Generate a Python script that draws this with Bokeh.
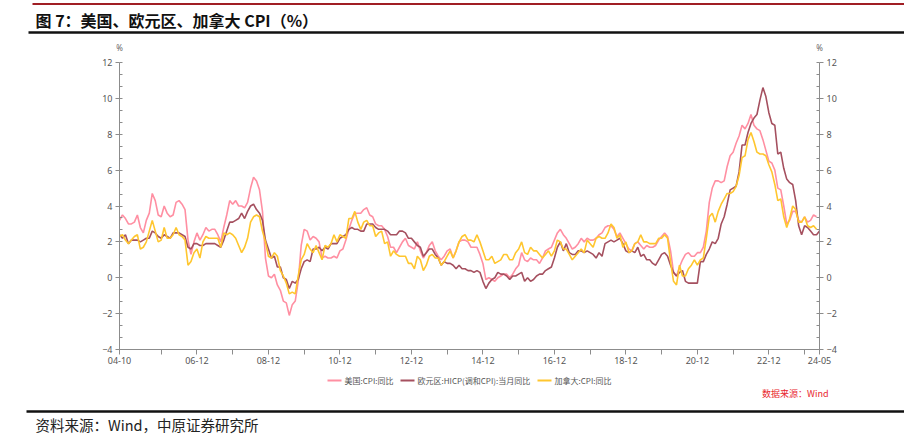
import pandas as pd
from bokeh.plotting import figure
from bokeh.models import (Range1d, LinearAxis, FixedTicker, SingleIntervalTicker, ColumnDataSource)
from bokeh.core.properties import value
from bokeh.layouts import column
from bokeh.embed import file_html
from bokeh.resources import INLINE

# ---------------- data ----------------
months = [p.strftime("%y-%m") for p in pd.period_range("2004-10", "2024-05", freq="M")]

us_cpi = [
    3.2, 3.5, 3.3,                                                   # 2004 Oct-Dec
    3.0, 3.0, 3.1, 3.5, 2.8, 2.5, 3.2, 3.6, 4.7, 4.3, 3.5, 3.4,      # 2005
    4.0, 3.6, 3.4, 3.5, 4.2, 4.3, 4.1, 3.8, 2.1, 1.3, 2.0, 2.5,      # 2006
    2.1, 2.4, 2.8, 2.6, 2.7, 2.7, 2.4, 2.0, 2.8, 3.5, 4.3, 4.1,      # 2007
    4.3, 4.0, 4.0, 3.9, 4.2, 5.0, 5.6, 5.4, 4.9, 3.7, 1.1, 0.1,      # 2008
    0.0, 0.2, -0.4, -0.7, -1.3, -1.4, -2.1, -1.5, -1.3, -0.2, 1.8, 2.7,  # 2009
    2.6, 2.1, 2.3, 2.2, 2.0, 1.1, 1.2, 1.1, 1.1, 1.2, 1.1, 1.5,      # 2010
    1.6, 2.1, 2.7, 3.2, 3.6, 3.6, 3.6, 3.8, 3.9, 3.5, 3.4, 3.0,      # 2011
    2.9, 2.9, 2.7, 2.3, 1.7, 1.7, 1.4, 1.7, 2.0, 2.2, 1.8, 1.7,      # 2012
    1.6, 2.0, 1.5, 1.1, 1.4, 1.8, 2.0, 1.5, 1.2, 1.0, 1.2, 1.5,      # 2013
    1.6, 1.1, 1.5, 2.0, 2.1, 2.1, 2.0, 1.7, 1.7, 1.7, 1.3, 0.8,      # 2014
    -0.1, 0.0, -0.1, -0.2, 0.0, 0.1, 0.2, 0.2, 0.0, 0.2, 0.5, 0.7,   # 2015
    1.4, 1.0, 0.9, 1.1, 1.0, 1.0, 0.8, 1.1, 1.5, 1.6, 1.7, 2.1,      # 2016
    2.5, 2.7, 2.4, 2.2, 1.9, 1.6, 1.7, 1.9, 2.2, 2.0, 2.2, 2.1,      # 2017
    2.1, 2.2, 2.4, 2.5, 2.8, 2.9, 2.9, 2.7, 2.3, 2.5, 2.2, 1.9,      # 2018
    1.6, 1.5, 1.9, 2.0, 1.8, 1.6, 1.8, 1.7, 1.7, 1.8, 2.1, 2.3,      # 2019
    2.5, 2.3, 1.5, 0.3, 0.1, 0.6, 1.0, 1.3, 1.4, 1.2, 1.2, 1.4,      # 2020
    1.4, 1.7, 2.6, 4.2, 5.0, 5.4, 5.4, 5.3, 5.4, 6.2, 6.8, 7.0,      # 2021
    7.5, 7.9, 8.5, 8.3, 8.6, 9.1, 8.5, 8.3, 8.2, 7.7, 7.1, 6.5,      # 2022
    6.4, 6.0, 5.0, 4.9, 4.0, 3.0, 3.2, 3.7, 3.7, 3.2, 3.1, 3.4,      # 2023
    3.1, 3.2, 3.5, 3.4,                                              # 2024 Jan-Apr
]

ea_hicp = [
    2.4, 2.2, 2.4,
    1.9, 2.1, 2.1, 2.1, 2.0, 2.1, 2.2, 2.2, 2.6, 2.5, 2.3, 2.2,
    2.4, 2.3, 2.2, 2.5, 2.5, 2.5, 2.4, 2.3, 1.7, 1.6, 1.9, 1.9,
    1.8, 1.8, 1.9, 1.9, 1.9, 1.9, 1.8, 1.7, 2.1, 2.6, 3.1, 3.1,
    3.2, 3.3, 3.6, 3.3, 3.7, 4.0, 4.1, 3.8, 3.6, 3.2, 2.1, 1.6,
    1.1, 1.2, 0.6, 0.6, 0.0, -0.1, -0.6, -0.2, -0.3, -0.1, 0.5, 0.9,
    1.0, 0.9, 1.6, 1.6, 1.7, 1.5, 1.7, 1.6, 1.9, 1.9, 1.9, 2.2,
    2.3, 2.4, 2.7, 2.8, 2.7, 2.7, 2.6, 2.6, 3.0, 3.0, 3.0, 2.8,
    2.7, 2.7, 2.7, 2.6, 2.4, 2.4, 2.4, 2.6, 2.6, 2.5, 2.2, 2.2,
    2.0, 1.8, 1.7, 1.2, 1.4, 1.6, 1.6, 1.3, 1.1, 0.7, 0.9, 0.8,
    0.8, 0.7, 0.5, 0.7, 0.5, 0.5, 0.4, 0.4, 0.3, 0.4, 0.3, -0.2,
    -0.6, -0.3, -0.1, 0.0, 0.3, 0.2, 0.2, 0.1, -0.1, 0.1, 0.1, 0.2,
    0.3, -0.2, 0.0, -0.2, -0.1, 0.1, 0.2, 0.2, 0.4, 0.5, 0.6, 1.1,
    1.7, 2.0, 1.5, 1.9, 1.4, 1.3, 1.3, 1.5, 1.5, 1.4, 1.5, 1.4,
    1.3, 1.1, 1.4, 1.2, 1.9, 2.0, 2.1, 2.0, 2.1, 2.2, 1.9, 1.5,
    1.4, 1.5, 1.4, 1.7, 1.2, 1.3, 1.0, 1.0, 0.8, 0.7, 1.0, 1.3,
    1.4, 1.2, 0.7, 0.3, 0.1, 0.3, 0.4, -0.2, -0.3, -0.3, -0.3, -0.3,
    0.9, 0.9, 1.3, 1.6, 2.0, 1.9, 2.2, 3.0, 3.4, 4.1, 4.9, 5.0,
    5.1, 5.9, 7.4, 7.4, 8.1, 8.6, 8.9, 9.1, 9.9, 10.6, 10.1, 9.2,
    8.6, 8.5, 6.9, 7.0, 6.1, 5.5, 5.3, 5.2, 4.3, 2.9, 2.4, 2.9,
    2.8, 2.6, 2.4, 2.4, 2.6,
]

ca_cpi = [
    2.3, 2.4, 2.1,
    1.9, 2.1, 2.3, 2.4, 1.6, 1.7, 2.0, 2.6, 3.2, 2.6, 2.0, 2.1,
    2.8, 2.2, 2.2, 2.4, 2.8, 2.4, 2.3, 2.1, 0.7, 0.9, 1.4, 1.6,
    1.1, 2.0, 2.3, 2.2, 2.2, 2.2, 2.2, 1.7, 2.5, 2.4, 2.5, 2.4,
    2.2, 1.8, 1.4, 1.7, 2.2, 3.1, 3.4, 3.5, 3.4, 2.6, 2.0, 1.2,
    1.1, 1.4, 1.2, 0.4, 0.1, -0.3, -0.9, -0.8, -0.9, 0.1, 1.0, 1.3,
    1.9, 1.6, 1.4, 1.8, 1.4, 1.0, 1.8, 1.7, 1.9, 2.4, 2.0, 2.4,
    2.3, 2.2, 3.3, 3.3, 3.7, 3.1, 2.7, 3.1, 3.2, 2.9, 2.9, 2.3,
    2.5, 2.6, 1.9, 2.0, 1.2, 1.5, 1.3, 1.2, 1.2, 1.2, 0.8, 0.8,
    0.5, 1.2, 1.0, 0.4, 0.7, 1.2, 1.3, 1.1, 1.1, 0.7, 0.9, 1.2,
    1.5, 1.1, 1.5, 2.0, 2.3, 2.4, 2.1, 2.1, 2.0, 2.4, 2.0, 1.5,
    1.0, 1.0, 1.2, 0.8, 0.9, 1.0, 1.3, 1.3, 1.0, 1.0, 1.4, 1.6,
    2.0, 1.4, 1.3, 1.7, 1.5, 1.5, 1.3, 1.1, 1.3, 1.5, 1.2, 1.5,
    2.1, 2.0, 1.6, 1.6, 1.3, 1.0, 1.2, 1.4, 1.6, 1.4, 2.1, 1.9,
    1.7, 2.2, 2.3, 2.2, 2.2, 2.5, 3.0, 2.8, 2.2, 2.4, 1.7, 2.0,
    1.4, 1.5, 1.9, 2.0, 2.4, 2.0, 2.0, 1.9, 1.9, 1.9, 2.2, 2.2,
    2.4, 2.2, 0.9, -0.2, -0.4, 0.7, 0.1, 0.1, 0.5, 0.7, 1.0, 0.7,
    1.0, 1.1, 2.2, 3.4, 3.6, 3.1, 3.7, 4.1, 4.4, 4.7, 4.7, 4.8,
    5.1, 5.7, 6.7, 6.8, 7.7, 8.1, 7.6, 7.0, 6.9, 6.9, 6.8, 6.3,
    5.9, 5.2, 4.3, 4.4, 3.4, 2.8, 3.3, 4.0, 3.8, 3.1, 3.1, 3.4,
    2.9, 2.8, 2.9, 2.7,
]

series_names = ["美国:CPI:同比", "欧元区:HICP(调和CPI):当月同比", "加拿大:CPI:同比"]
series_colors = ["#FF8FA2", "#A5505F", "#FFC62E"]
y_ticks = [-4, -2, 0, 2, 4, 6, 8, 10, 12]
x_tick_months = ["04-10"] + ["%02d-12" % y for y in range(5, 24)] + ["24-05"]
x_label_months = ["04-10"] + ["%02d-12" % y for y in range(6, 24, 2)] + ["24-05"]
title_text = "图 7：美国、欧元区、加拿大 CPI（%）"
source_text = "资料来源：Wind，中原证券研究所"
wind_note = "数据来源：Wind"
unit_text = "%"

FONT = "Noto Sans CJK SC"
W = 904


def band(y0, y1):
    """A strip of the page drawn in page-pixel coordinates (y grows downward)."""
    f = figure(width=W, height=y1 - y0, x_range=Range1d(0, W), y_range=Range1d(y1, y0),
               output_backend="svg", toolbar_location=None, min_border=0,
               x_axis_type=None, y_axis_type=None, outline_line_color=None,
               frame_align=False)
    f.grid.visible = False
    return f


# ---------------- header band (title, rules, unit marks) ----------------
head = band(0, 52)
head.segment(x0=[32], y0=[3.5], x1=[904], y1=[3.5], line_color="#A01E24", line_width=2)
head.segment(x0=[28], y0=[32], x1=[904], y1=[32], line_color="#111111", line_width=2.5)
head.text(x=[35], y=[19], text=[title_text], text_font=value(FONT), text_font_style="bold",
          text_font_size="16px", text_color="#111111", text_baseline="middle")
head.text(x=[119, 819], y=[47, 47], text=[unit_text, unit_text], text_font=value("Noto Sans"),
          text_font_size="8px", text_color="#666666", text_align="center", text_baseline="middle")

# ---------------- chart band ----------------
TOP, BOT = 52, 371
p = figure(width=W, height=BOT - TOP, x_range=Range1d(0, len(months) - 1), y_range=Range1d(-4, 12),
           output_backend="svg", toolbar_location=None,
           min_border_left=119, min_border_right=W - 819, min_border_top=62 - TOP,
           min_border_bottom=BOT - 349, outline_line_color=None,
           x_axis_type=None, y_axis_type=None, frame_align=False)

x = list(range(len(months)))
for vals, col in zip([us_cpi, ea_hicp, ca_cpi], series_colors):
    p.line(x[:len(vals)], vals, line_color=col, line_width=1.6)


def style_y(ax):
    ax.ticker = SingleIntervalTicker(interval=2, num_minor_ticks=3)
    ax.axis_line_color = "#8c8c8c"
    ax.major_tick_line_color = "#8c8c8c"
    ax.minor_tick_line_color = "#8c8c8c"
    ax.major_tick_out = 4
    ax.major_tick_in = 0
    ax.minor_tick_in = 3
    ax.minor_tick_out = 0
    ax.major_label_text_font = "Noto Sans"
    ax.major_label_text_font_size = "9px"
    ax.major_label_text_color = "#555555"
    ax.major_label_standoff = 3


yl = LinearAxis()
style_y(yl)
p.add_layout(yl, "left")
yr = LinearAxis()
style_y(yr)
p.add_layout(yr, "right")

tick_pos = [months.index(m) for m in x_tick_months]
xa = LinearAxis(ticker=FixedTicker(ticks=tick_pos, minor_ticks=[]))
xa.major_label_overrides = {months.index(m): (m if m in x_label_months else "") for m in x_tick_months}
xa.axis_line_color = "#8c8c8c"
xa.major_tick_line_color = "#8c8c8c"
xa.major_tick_out = 5
xa.major_tick_in = 0
xa.major_label_text_font = "Noto Sans"
xa.major_label_text_font_size = "9px"
xa.major_label_text_color = "#555555"
xa.major_label_standoff = 2
p.add_layout(xa, "below")

p.ygrid.ticker = FixedTicker(ticks=y_ticks[1:])
p.ygrid.grid_line_color = "#dcdcdc"
p.ygrid.grid_line_dash = "3 3"
p.xgrid.visible = False

# ---------------- footer band (legend, notes, source) ----------------
foot = band(BOT, 440)
leg_x0 = [327, 400, 537]
leg = ColumnDataSource(dict(x0=leg_x0, x1=[v + 14 for v in leg_x0], y=[380] * 3,
                            tx=[v + 17 for v in leg_x0], name=series_names, color=series_colors))
foot.segment(x0="x0", y0="y", x1="x1", y1="y", line_color="color", line_width=2, source=leg)
foot.text(x="tx", y="y", text="name", source=leg, text_font=value(FONT), text_font_size="8px",
          text_color="#555555", text_baseline="middle")
foot.text(x=[828], y=[393], text=[wind_note], text_font=value(FONT), text_font_size="9px",
          text_color="#E8262C", text_align="right", text_baseline="middle")
foot.segment(x0=[26], y0=[411], x1=[904], y1=[411], line_color="#111111", line_width=2.5)
foot.text(x=[35], y=[424], text=[source_text], text_font=value(FONT), text_font_size="14.5px",
          text_color="#222222", text_baseline="middle")

layout = column(head, p, foot, spacing=0)
open("out.html", "w").write(file_html(layout, INLINE))
